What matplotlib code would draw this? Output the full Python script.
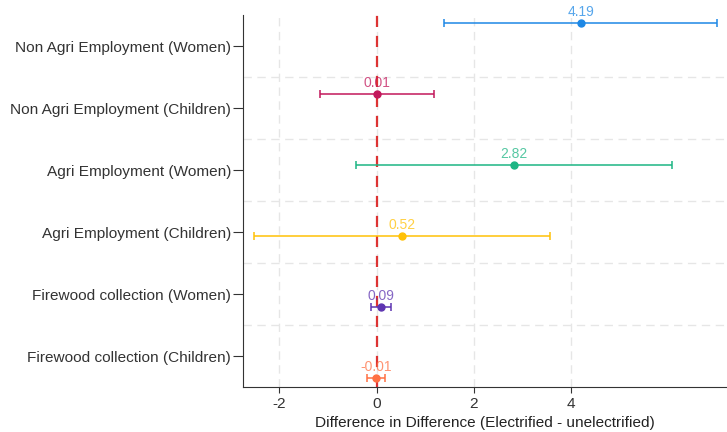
import numpy as np
import matplotlib
matplotlib.use("Agg")
import matplotlib.pyplot as plt
from matplotlib.ticker import FixedLocator

plt.rcParams['font.family'] = ['Liberation Sans', 'DejaVu Sans']
plt.rcParams['axes.unicode_minus'] = False

# data, top to bottom as in the chart
labels = ['Non Agri Employment (Women)', 'Non Agri Employment (Children)',
          'Agri Employment (Women)', 'Agri Employment (Children)',
          'Firewood collection (Women)', 'Firewood collection (Children)']
estimates = [4.19, 0.01, 2.82, 0.52, 0.09, -0.01]
errors = [2.81, 1.17, 3.25, 3.04, 0.20, 0.18]
colors = ['#1E88E5', '#C2185B', '#1DB584', '#FFC107', '#5E35B1', '#FF7043']
xticks = [-2, 0, 2, 4]

fig = plt.figure(figsize=(7.27, 4.32), dpi=100)
ax = fig.add_axes([0.334, 0.104, 0.666, 0.861])

n = len(labels)
tick_pos = np.arange(n, 0, -1)              # category ticks 6..1
point_pos = np.linspace(6.37, 0.65, n)      # markers are spread a bit wider than the ticks

for y, est, err, c in zip(point_pos, estimates, errors, colors):
    ax.errorbar(est, y, xerr=err, fmt='o', color=c, ecolor=c, markersize=5,
                elinewidth=1.1, capsize=3, capthick=1.1, zorder=3)
    ax.annotate(f'{est:.2f}', (est, y), xytext=(0, 3), textcoords='offset points',
                ha='center', va='bottom', fontsize=10, color=c, alpha=0.75)

ax.axvline(0, color='#DD3333', linestyle=(0, (5, 4)), linewidth=1.6, zorder=2)

ax.set_xlim(-2.75, 7.2)
ax.set_ylim(0.5, 6.5)
ax.set_xticks(xticks)
ax.set_yticks(tick_pos)
ax.set_yticklabels(labels)
ax.yaxis.set_minor_locator(FixedLocator(np.arange(1.5, 6.5, 1)))
ax.tick_params(axis='y', which='minor', length=0)
ax.tick_params(axis='y', which='major', length=7, pad=1.5, labelsize=11.1, colors='#333333')
ax.tick_params(axis='x', length=4, labelsize=11.1, colors='#333333')

ax.grid(axis='x', which='major', color='#E6E6E6', linestyle=(0, (6, 4)), linewidth=1)
ax.grid(axis='y', which='minor', color='#E6E6E6', linestyle=(0, (6, 4)), linewidth=1)
ax.set_axisbelow(True)

for s in ['top', 'right']:
    ax.spines[s].set_visible(False)
for s in ['left', 'bottom']:
    ax.spines[s].set_color('#333333')

ax.set_xlabel('Difference in Difference (Electrified - unelectrified)', fontsize=11.1,
              color='#222222', labelpad=3)

fig.savefig('out.png', dpi=100)
